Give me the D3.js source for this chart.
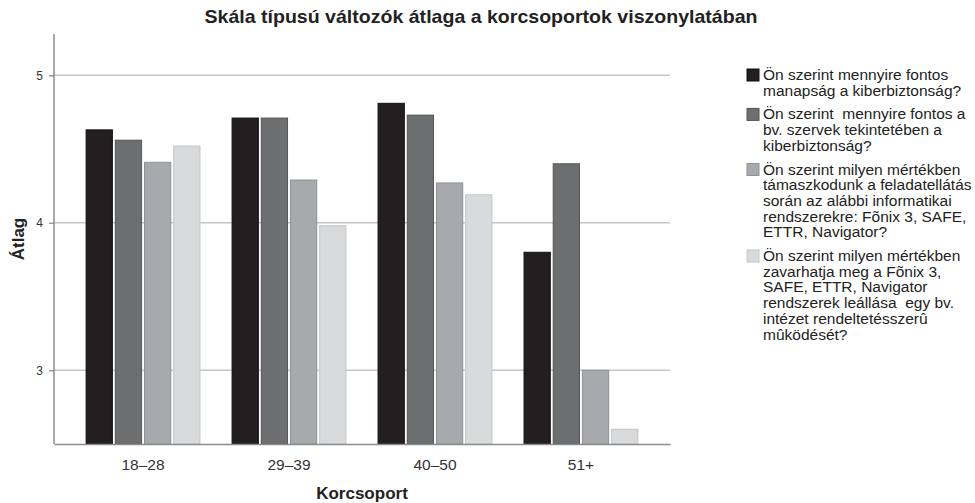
<!DOCTYPE html>
<html>
<head>
<meta charset="utf-8">
<script src="https://cdn.jsdelivr.net/npm/d3@7"></script>
<style>
  body { margin: 0; background: #fff; }
  svg { display: block; font-family: "Liberation Sans", Arial, sans-serif; }
</style>
</head>
<body>
<div id="chart"></div>
<script>
// korcsoportok
const groups = ["18–28", "29–39", "40–50", "51+"];

// kérdések (legend szövegek, soronként)
const seriesLabels = [
  ["Ön szerint mennyire fontos", "manapság a kiberbiztonság?"],
  ["Ön szerint  mennyire fontos a", "bv. szervek tekintetében a", "kiberbiztonság?"],
  ["Ön szerint milyen mértékben", "támaszkodunk a feladatellátás", "során az alábbi informatikai", "rendszerekre: Fõnix 3, SAFE,", "ETTR, Navigator?"],
  ["Ön szerint milyen mértékben", "zavarhatja meg a Fõnix 3,", "SAFE, ETTR, Navigator", "rendszerek leállása  egy bv.", "intézet rendeltetésszerû", "mûködését?"]
];

// átlagok kérdésenként, korcsoportonként
const q1 = [4.63, 4.71, 4.81, 3.80];
const q2 = [4.56, 4.71, 4.73, 4.40];
const q3 = [4.41, 4.29, 4.27, 3.00];
const q4 = [4.52, 3.98, 4.19, 2.60];

const yTicks = [3, 4, 5];

const series = [q1, q2, q3, q4];
const fills = ["#231f20", "#6d6e70", "#a7a9ac", "#d9dadb"];
const strokes = ["#111", "#555", "#8e9093", "#c4c5c7"];

const width = 975, height = 503;
const margin = {top: 34, right: 305, bottom: 59, left: 54};

const svg = d3.select("#chart")
  .append("svg")
  .attr("width", width)
  .attr("height", height);

const x0 = d3.scaleBand()
  .domain(groups)
  .range([margin.left, width - margin.right])
  .paddingInner(0.22)
  .paddingOuter(0.22);

const x1 = d3.scaleBand()
  .domain(d3.range(series.length))
  .range([0, x0.bandwidth()])
  .paddingInner(0.1);

const y = d3.scaleLinear()
  .domain([2.5, 5.28])
  .range([height - margin.bottom, margin.top]);

// rácsvonalak
svg.append("g")
  .selectAll("line")
  .data(yTicks)
  .join("line")
  .attr("x1", margin.left)
  .attr("x2", width - margin.right)
  .attr("y1", d => y(d))
  .attr("y2", d => y(d))
  .attr("stroke", "#c6c6c6")
  .attr("stroke-width", 1.5);

// oszlopok
const rows = groups.map((g, i) => series.map((s, k) => ({group: g, k: k, value: s[i]})));

svg.append("g")
  .selectAll("g")
  .data(rows)
  .join("g")
  .attr("transform", (d, i) => `translate(${x0(groups[i])},0)`)
  .selectAll("rect")
  .data(d => d)
  .join("rect")
  .attr("x", d => x1(d.k))
  .attr("width", x1.bandwidth())
  .attr("y", d => y(d.value))
  .attr("height", d => y(2.5) - y(d.value))
  .attr("fill", d => fills[d.k])
  .attr("stroke", d => strokes[d.k])
  .attr("stroke-width", 1);

// y tengely
const yAxis = svg.append("g")
  .attr("transform", `translate(${margin.left},0)`)
  .call(d3.axisLeft(y).tickValues(yTicks).tickSize(5).tickPadding(6).tickFormat(d3.format("d")));
yAxis.select(".domain").remove();
yAxis.selectAll(".tick line").attr("stroke", "#999").attr("stroke-width", 1.5);
yAxis.selectAll(".tick text")
  .attr("fill", "#333")
  .style("font-size", "12px")
  .style("font-family", "Liberation Sans, Arial, sans-serif");

svg.append("line")
  .attr("x1", margin.left).attr("x2", margin.left)
  .attr("y1", margin.top).attr("y2", y(2.5))
  .attr("stroke", "#8c8c8c")
  .attr("stroke-width", 1.5);

// x tengely
const xAxis = svg.append("g")
  .attr("transform", `translate(0,${y(2.5)})`)
  .call(d3.axisBottom(x0).tickSize(0).tickPadding(15));
xAxis.select(".domain")
  .attr("stroke", "#8c8c8c")
  .attr("stroke-width", 1.5);
xAxis.selectAll(".tick text")
  .attr("fill", "#333")
  .style("font-size", "15.5px")
  .style("font-family", "Liberation Sans, Arial, sans-serif");

// címek
svg.append("text")
  .attr("x", 481)
  .attr("y", 23)
  .attr("text-anchor", "middle")
  .attr("textLength", 553)
  .attr("lengthAdjust", "spacingAndGlyphs")
  .style("font-size", "19px")
  .style("font-weight", "bold")
  .attr("fill", "#222")
  .text("Skála típusú változók átlaga a korcsoportok viszonylatában");

svg.append("text")
  .attr("transform", `translate(24,239) rotate(-90)`)
  .attr("text-anchor", "middle")
  .style("font-size", "17px")
  .style("font-weight", "bold")
  .attr("fill", "#222")
  .text("Átlag");

svg.append("text")
  .attr("x", (margin.left + width - margin.right) / 2)
  .attr("y", 499)
  .attr("text-anchor", "middle")
  .style("font-size", "17px")
  .style("font-weight", "bold")
  .attr("fill", "#222")
  .text("Korcsoport");

// jelmagyarázat
const lineH = 15.7;
const gap = 8;
let ly = 80;
const legend = svg.append("g");
seriesLabels.forEach((lines, k) => {
  legend.append("rect")
    .attr("x", 747)
    .attr("y", ly - 11)
    .attr("width", 12)
    .attr("height", 12)
    .attr("fill", fills[k])
    .attr("stroke", strokes[k]);
  const t = legend.append("text")
    .attr("x", 763)
    .attr("y", ly)
    .style("font-size", "15.5px")
    .attr("fill", "#222")
    .attr("xml:space", "preserve")
    .style("white-space", "pre");
  lines.forEach((s, j) => {
    t.append("tspan")
      .attr("x", 763)
      .attr("dy", j === 0 ? 0 : lineH)
      .text(s);
  });
  ly += lines.length * lineH + gap;
});
</script>
</body>
</html>
